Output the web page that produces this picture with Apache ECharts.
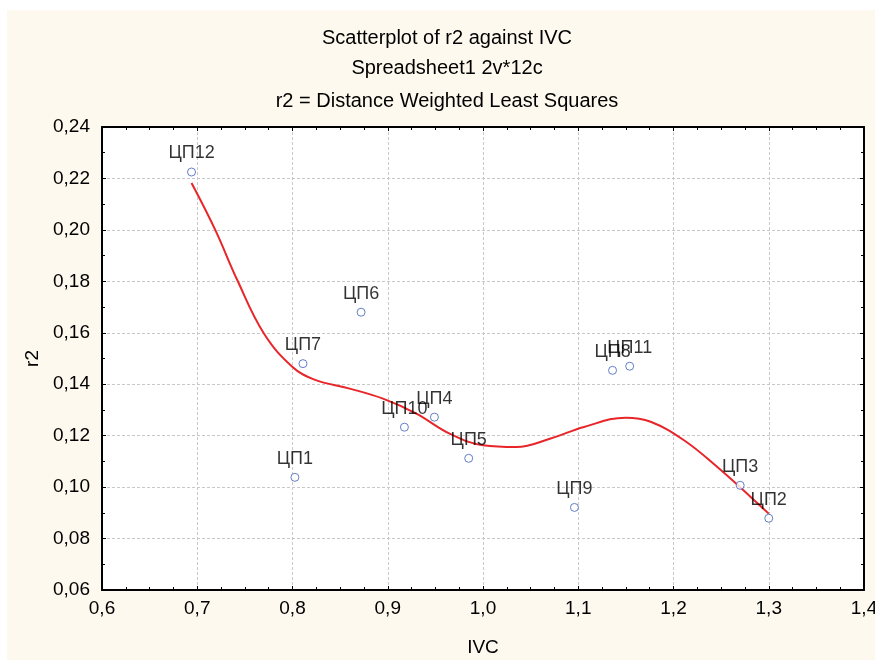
<!DOCTYPE html>
<html>
<head>
<meta charset="utf-8">
<script src="https://cdn.jsdelivr.net/npm/echarts@6/dist/echarts.min.js"></script>
<style>
  html, body { margin: 0; padding: 0; background: #fff; }
  #chart { width: 875px; height: 661px; }
</style>
</head>
<body>
<div id="chart"></div>
<script>
// points
var names = ['ЦП1', 'ЦП2', 'ЦП3', 'ЦП4', 'ЦП5', 'ЦП6', 'ЦП7', 'ЦП8', 'ЦП9', 'ЦП10', 'ЦП11', 'ЦП12'];
var ivc = [0.8025, 1.300, 1.270, 0.949, 0.985, 0.872, 0.811, 1.136, 1.096, 0.9175, 1.154, 0.694];
var r2 = [0.1038, 0.0879, 0.1007, 0.1272, 0.1112, 0.1680, 0.1480, 0.1454, 0.0921, 0.1233, 0.1470, 0.2225];

// distance weighted least squares fit
var fitX = [0.694, 0.719, 0.742, 0.770, 0.800, 0.823, 0.860, 0.895, 0.930, 0.965, 1.000, 1.035, 1.071, 1.106, 1.150, 1.176, 1.211, 1.246, 1.281, 1.300];
var fitY = [0.2182, 0.1999, 0.1805, 0.1597, 0.1467, 0.1418, 0.1383, 0.1344, 0.1286, 0.1208, 0.1163, 0.1156, 0.1189, 0.1234, 0.1270, 0.1254, 0.1182, 0.1078, 0.0962, 0.0897];

var titleLines = ['Scatterplot of r2 against IVC', 'Spreadsheet1 2v*12c', 'r2 = Distance Weighted Least Squares'];

var font = 'Liberation Sans, Arial, sans-serif';

var dom = document.getElementById('chart');
var myChart = echarts.init(dom, null, { renderer: 'canvas' });

var pts = ivc.map(function (x, i) {
  return { name: names[i], value: [x, r2[i]] };
});
var fit = fitX.map(function (x, i) {
  return [x, fitY[i]];
});

function comma(d) {
  return function (v) { return v.toFixed(d).replace('.', ','); };
}

var tickStyle = { show: true, inside: true, length: 4, lineStyle: { color: '#000', width: 1 } };
var lineBlack = { show: true, onZero: false, lineStyle: { color: '#000', width: 2 } };
var gridLine = { show: true, lineStyle: { color: '#c8c8c8', type: [3, 2], width: 1 } };

var option = {
  backgroundColor: '#fff',
  animation: false,
  textStyle: { fontFamily: font },
  graphic: [
    { type: 'rect', z: -10, shape: { x: 7, y: 10, width: 868, height: 650 }, style: { fill: '#fdf9ef' } },
    { type: 'text', x: 447, y: 38, style: { text: titleLines[0], align: 'center', verticalAlign: 'middle', font: '20px ' + font, fill: '#000' } },
    { type: 'text', x: 447, y: 68, style: { text: titleLines[1], align: 'center', verticalAlign: 'middle', font: '20px ' + font, fill: '#000' } },
    { type: 'text', x: 447, y: 101, style: { text: titleLines[2], align: 'center', verticalAlign: 'middle', font: '20px ' + font, fill: '#000' } }
  ],
  grid: {
    left: 102,
    top: 127,
    width: 762,
    height: 463,
    outerBoundsMode: 'none',
    containLabel: false,
    show: true,
    backgroundColor: '#fff',
    borderWidth: 0
  },
  xAxis: [
    {
      type: 'value',
      min: 0.6,
      max: 1.4,
      interval: 0.1,
      name: 'IVC',
      nameLocation: 'middle',
      nameGap: 48,
      nameTextStyle: { fontSize: 19, color: '#000' },
      axisLine: lineBlack,
      axisTick: tickStyle,
      minorTick: { show: true, splitNumber: 4, length: 3, lineStyle: { color: '#000' } },
      axisLabel: { formatter: comma(1), fontSize: 19, color: '#000', margin: 9 },
      splitLine: gridLine
    },
    {
      type: 'value',
      position: 'top',
      min: 0.6,
      max: 1.4,
      interval: 0.1,
      axisLine: lineBlack,
      axisTick: tickStyle,
      minorTick: { show: true, splitNumber: 4, length: 3, lineStyle: { color: '#000' } },
      axisLabel: { show: false },
      splitLine: { show: false }
    }
  ],
  yAxis: [
    {
      type: 'value',
      min: 0.06,
      max: 0.24,
      interval: 0.02,
      name: 'r2',
      nameLocation: 'middle',
      nameGap: 58,
      nameRotate: 90,
      nameTextStyle: { fontSize: 19, color: '#000' },
      axisLine: lineBlack,
      axisTick: tickStyle,
      minorTick: { show: true, splitNumber: 2, length: 3, lineStyle: { color: '#000' } },
      axisLabel: { formatter: comma(2), fontSize: 19, color: '#000', margin: 12 },
      splitLine: gridLine
    },
    {
      type: 'value',
      position: 'right',
      min: 0.06,
      max: 0.24,
      interval: 0.02,
      axisLine: lineBlack,
      axisTick: tickStyle,
      minorTick: { show: true, splitNumber: 2, length: 3, lineStyle: { color: '#000' } },
      axisLabel: { show: false },
      splitLine: { show: false }
    }
  ],
  series: [
    {
      name: 'fit',
      type: 'line',
      data: fit,
      smooth: 0.4,
      symbol: 'none',
      lineStyle: { color: '#e8262a', width: 2 },
      z: 2
    },
    {
      name: 'r2',
      type: 'scatter',
      data: pts,
      symbol: 'circle',
      symbolSize: 8,
      itemStyle: { color: '#fff', borderColor: '#3f5fb8', borderWidth: 1 },
      label: {
        show: true,
        position: 'top',
        distance: 5,
        formatter: '{b}',
        fontSize: 18,
        color: '#000'
      },
      z: 3
    }
  ]
};

if (option && typeof option === 'object') {
  myChart.setOption(option);
}

window.addEventListener('resize', myChart.resize);
</script>
</body>
</html>
